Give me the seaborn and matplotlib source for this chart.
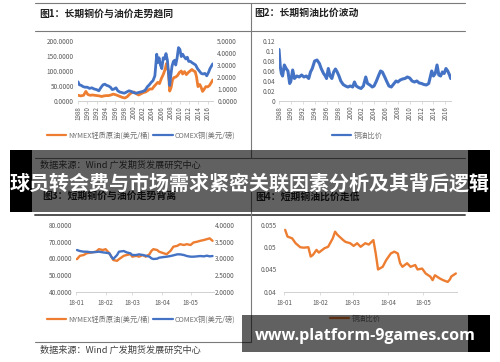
import matplotlib
matplotlib.use("Agg")
import matplotlib.pyplot as plt
import matplotlib.ticker as mticker
import matplotlib.dates as mdates
from matplotlib.lines import Line2D
from matplotlib.patches import Rectangle
import pandas as pd
import seaborn as sns

# ---- data ----
# fig 1: long-run oil ($/bbl, left axis) and copper ($/lb, right axis)
oil_years = [1988.0, 1988.6, 1989.2, 1989.7, 1990.1, 1990.6, 1991.1, 1991.6, 1992.1, 1992.6,
             1993.1, 1993.6, 1994.1, 1994.6, 1995.1, 1995.6, 1996.1, 1996.6, 1997.1, 1997.6,
             1998.1, 1998.6, 1999.1, 1999.6, 2000.1, 2000.6, 2001.1, 2001.6, 2002.1, 2002.6,
             2003.0, 2003.5, 2004.0, 2004.4, 2004.8, 2005.2, 2005.6, 2006.0, 2006.4, 2006.8,
             2007.1, 2007.5, 2007.8, 2008.1, 2008.4, 2008.7, 2009.1, 2009.5, 2009.9, 2010.3,
             2010.6, 2011.0, 2011.4, 2011.8, 2012.2, 2012.6, 2013.0, 2013.3, 2013.6, 2013.9,
             2014.3, 2014.6, 2014.9, 2015.2, 2015.6, 2016.0, 2016.4, 2016.8, 2017.1]
oil_long = [19, 17, 19, 32, 22, 19, 20, 19, 18, 17,
            15, 17, 18, 18, 20, 23, 21, 18, 15, 12,
            10, 14, 22, 28, 30, 24, 20, 24, 28, 30,
            34, 40, 40, 48, 55, 62, 58, 75, 88, 105,
            125, 100, 33, 45, 70, 78, 80, 85, 95, 100,
            90, 98, 88, 95, 100, 105, 100, 98, 80, 48,
            55, 45, 32, 38, 48, 47, 52, 62, 70]

cu_years = [1988.0, 1988.3, 1988.7, 1989.1, 1989.5, 1990.0, 1990.5, 1991.0, 1991.5, 1992.0,
            1992.5, 1993.0, 1993.4, 1993.8, 1994.2, 1994.6, 1995.0, 1995.4, 1995.8, 1996.2,
            1996.6, 1997.0, 1997.5, 1998.0, 1998.5, 1999.0, 1999.5, 2000.0, 2000.5, 2001.0,
            2001.5, 2002.0, 2002.5, 2003.0, 2003.4, 2003.8, 2004.2, 2004.6, 2005.0, 2005.2,
            2005.5, 2005.8, 2006.1, 2006.4, 2006.7, 2007.0, 2007.3, 2007.8, 2008.0, 2008.3,
            2008.6, 2008.9, 2009.1, 2009.4, 2009.7, 2010.0, 2010.3, 2010.6, 2010.9, 2011.3,
            2011.6, 2011.9, 2012.3, 2012.6, 2013.0, 2013.4, 2013.8, 2014.2, 2014.6, 2015.0,
            2015.4, 2015.8, 2016.2, 2016.5, 2016.8, 2017.1]
cu_long = [1.6, 1.35, 1.3, 1.2, 1.15, 1.15, 1.05, 1.1, 1.0, 0.95,
           0.85, 1.15, 1.35, 1.4, 1.3, 1.25, 1.15, 0.95, 1.0, 1.1,
           0.85, 0.75, 0.7, 0.65, 0.75, 0.85, 0.8, 0.7, 0.65, 0.7,
           0.75, 0.8, 0.9, 1.2, 1.35, 1.55, 1.7, 2.1, 3.9, 3.2,
           3.6, 3.0, 2.7, 3.6, 3.5, 3.95, 3.4, 1.3, 2.0, 2.9,
           3.3, 3.4, 3.0, 3.6, 4.45, 4.3, 3.7, 3.9, 3.7, 3.5,
           3.65, 3.3, 3.3, 3.2, 3.1, 3.0, 2.7, 2.5, 2.3, 2.25,
           2.3, 2.1, 2.4, 2.7, 2.9, 3.1]

# fig 2: long-run copper/oil ratio
ratio_years = [1988.0, 1988.2, 1988.4, 1988.6, 1988.9, 1989.2, 1989.5, 1989.8, 1990.0, 1990.3,
               1990.6, 1991.0, 1991.4, 1991.8, 1992.2, 1992.6, 1993.0, 1993.3, 1993.6, 1994.0,
               1994.4, 1994.8, 1995.1, 1995.5, 1995.8, 1996.0, 1996.3, 1996.6, 1996.9, 1997.2,
               1997.5, 1997.8, 1998.1, 1998.4, 1998.8, 1999.2, 1999.6, 2000.0, 2000.4, 2000.7,
               2001.0, 2001.4, 2001.8, 2002.2, 2002.6, 2002.9, 2003.3, 2003.7, 2004.0, 2004.4,
               2004.8, 2005.1, 2005.4, 2005.8, 2006.1, 2006.5, 2006.9, 2007.3, 2007.7, 2008.0,
               2008.4, 2008.8, 2009.2, 2009.6, 2010.0, 2010.4, 2010.8, 2011.2, 2011.6, 2012.0,
               2012.4, 2012.8, 2013.2, 2013.5, 2013.7, 2014.0, 2014.3, 2014.6, 2014.9, 2015.2,
               2015.5, 2015.8, 2016.1, 2016.4, 2016.7, 2016.9]
ratio_long = [0.103, 0.07, 0.055, 0.05, 0.072, 0.065, 0.06, 0.035, 0.04, 0.062,
              0.045, 0.05, 0.048, 0.052, 0.048, 0.05, 0.045, 0.058, 0.065, 0.08,
              0.082, 0.075, 0.065, 0.055, 0.05, 0.045, 0.065, 0.05, 0.045, 0.058,
              0.064, 0.058, 0.05, 0.04, 0.033, 0.03, 0.028, 0.03, 0.028, 0.038,
              0.03, 0.027, 0.025, 0.03, 0.048, 0.035, 0.032, 0.028, 0.03, 0.04,
              0.052, 0.06, 0.058, 0.048, 0.04, 0.03, 0.028, 0.034, 0.04, 0.038,
              0.042, 0.044, 0.045, 0.048, 0.046, 0.04, 0.038, 0.04, 0.036, 0.035,
              0.033, 0.032, 0.035, 0.05, 0.06, 0.05, 0.055, 0.072, 0.052, 0.05,
              0.058, 0.055, 0.065, 0.06, 0.052, 0.045]

# fig 3: 2018 oil and copper
short_dates = ["01-02", "01-05", "01-09", "01-12", "01-17", "01-22", "01-25", "01-29", "02-01", "02-05",
               "02-07", "02-09", "02-13", "02-15", "02-20", "02-23", "02-27", "03-01", "03-05", "03-08",
               "03-12", "03-15", "03-19", "03-21", "03-23", "03-27", "03-29", "04-03", "04-06", "04-10",
               "04-13", "04-17", "04-20", "04-24", "04-27", "05-01", "05-04", "05-08", "05-11", "05-15",
               "05-18", "05-21", "05-24"]
oil_short = [59.5, 61.5, 62, 63, 63.5, 64, 65.5, 65, 65.5, 63,
             61, 59, 58.5, 59.5, 61.5, 62, 62.5, 61, 61.5, 61,
             62, 61, 62.5, 64.5, 65.5, 65, 64, 63, 62.5, 64.5,
             67, 67.5, 68.5, 68, 68.5, 68, 69.5, 70, 70.5, 71,
             71.5, 72, 70.5]
cu_short = [3.25, 3.22, 3.2, 3.2, 3.18, 3.19, 3.2, 3.18, 3.17, 3.15,
            3.05, 2.98, 3.1, 3.2, 3.22, 3.18, 3.15, 3.1, 3.1, 3.12,
            3.1, 3.08, 3.05, 3.0, 2.98, 2.99, 3.02, 3.04, 3.05, 3.07,
            3.09, 3.12, 3.12, 3.1, 3.07, 3.05, 3.05, 3.06, 3.07, 3.06,
            3.08, 3.06, 3.07]

# fig 4: 2018 copper/oil ratio
ratio_dates = ["01-02", "01-04", "01-08", "01-11", "01-15", "01-18", "01-22", "01-24", "01-26", "01-29",
               "01-31", "02-05", "02-08", "02-12", "02-14", "02-16", "02-21", "02-23", "02-27", "03-02",
               "03-05", "03-08", "03-12", "03-15", "03-19", "03-21", "03-23", "03-27", "03-30", "04-03",
               "04-06", "04-09", "04-11", "04-13", "04-17", "04-20", "04-24", "04-26", "04-30", "05-03",
               "05-07", "05-09", "05-11", "05-15", "05-18", "05-22", "05-24", "05-25", "05-29"]
ratio_short = [0.0539, 0.0524, 0.0520, 0.0509, 0.0500, 0.0499, 0.0500, 0.0479, 0.0483, 0.0494,
               0.0488, 0.0498, 0.0501, 0.0520, 0.0535, 0.0528, 0.0516, 0.0512, 0.0509, 0.0503,
               0.0509, 0.0501, 0.0509, 0.0506, 0.0516, 0.0486, 0.0450, 0.0456, 0.0471, 0.0486,
               0.0490, 0.0486, 0.0464, 0.0456, 0.0464, 0.0456, 0.0460, 0.0450, 0.0452, 0.0441,
               0.0434, 0.0426, 0.0437, 0.0430, 0.0426, 0.0422, 0.0428, 0.0434, 0.0441]

long_ticks = list(range(1988, 2017, 2))
oil_label = "NYMEX轻质原油(美元/桶)"
cu_label = "COMEX铜(美元/磅)"
ratio_label = "铜油比价"
titles = ["图1：长期铜价与油价走势趋同", "图2：长期铜油比价波动",
          "图3：短期铜价与油价走势背离", "图4：短期铜油比价走低"]
source = "数据来源：Wind 广发期货发展研究中心"
banner = "球员转会费与市场需求紧密关联因素分析及其背后逻辑"
site = "www.platform-9games.com"

# ---- drawing ----
sns.set_theme(style="white")
plt.rcParams["font.family"] = ["Noto Sans CJK SC", "DejaVu Sans"]

W, H = 500, 362
ORANGE = "#ED7D31"
BLUE = "#4472C4"
TICK = "#595959"

fig = plt.figure(figsize=(5, 3.62), dpi=100)
fig.patch.set_facecolor("white")


def px_axes(x0, y0, x1, y1):
    return fig.add_axes([x0 / W, 1 - y1 / H, (x1 - x0) / W, (y1 - y0) / H])


def style(ax, ypad=2.2):
    for s in ["top", "right", "left"]:
        ax.spines[s].set_visible(False)
    ax.spines["bottom"].set_color("#d0d0d0")
    ax.spines["bottom"].set_linewidth(0.7)
    ax.tick_params(axis="x", colors=TICK, labelsize=4.5, length=2, width=0.5,
                   color="#d0d0d0", pad=1.5, bottom=True)
    ax.tick_params(axis="y", colors=TICK, labelsize=4.6, length=0, pad=ypad)
    ax.set_xlabel("")
    ax.set_ylabel("")
    ax.patch.set_alpha(0)


def twin_style(ax, ypad=2.2):
    for s in ["top", "right", "left", "bottom"]:
        ax.spines[s].set_visible(False)
    ax.tick_params(axis="y", colors=TICK, labelsize=4.6, length=0, pad=ypad)
    ax.set_ylabel("")


def add_legend(ax, handles, labels, cx, cy):
    ax.legend(handles, labels, loc="center", bbox_to_anchor=(cx / W, 1 - cy / H),
              bbox_transform=fig.transFigure, ncol=len(handles), frameon=False,
              fontsize=5.2, labelcolor="#707070", handlelength=2.7, handletextpad=0.3,
              columnspacing=0.4)


fmt4 = mticker.FormatStrFormatter("%.4f")
fmtg = mticker.FuncFormatter(lambda v, p: f"{v:g}")
oil_h = Line2D([], [], color=ORANGE, lw=1.6)
cu_h = Line2D([], [], color=BLUE, lw=1.6)

# fig 1
ax1 = px_axes(78, 41, 213, 101)
sns.lineplot(x=oil_years, y=oil_long, ax=ax1, color=ORANGE, lw=2.0)
ax1.set_xlim(1988, 2017.15)
ax1.set_ylim(0, 200)
ax1.set_yticks([0, 50, 100, 150, 200])
ax1.yaxis.set_major_formatter(fmt4)
ax1.set_xticks(long_ticks)
ax1.set_xticklabels([str(y) for y in long_ticks], rotation=90)
style(ax1, ypad=3)
ax1r = ax1.twinx()
sns.lineplot(x=cu_years, y=cu_long, ax=ax1r, color=BLUE, lw=2.0)
ax1r.set_ylim(0, 5)
ax1r.set_yticks([0, 1, 2, 3, 4, 5])
ax1r.yaxis.set_major_formatter(fmt4)
twin_style(ax1r, ypad=3)
add_legend(ax1, [oil_h, cu_h], [oil_label, cu_label], 141, 136)

# fig 2
ax2 = px_axes(279, 41, 451, 101)
sns.lineplot(x=ratio_years, y=ratio_long, ax=ax2, color=BLUE, lw=2.2)
ax2.set_xlim(1988, 2016.95)
ax2.set_ylim(0, 0.12)
ax2.set_yticks([0, 0.02, 0.04, 0.06, 0.08, 0.1, 0.12])
ax2.yaxis.set_major_formatter(fmtg)
ax2.set_xticks(long_ticks)
ax2.set_xticklabels([str(y) for y in long_ticks], rotation=90)
style(ax2, ypad=3)
add_legend(ax2, [cu_h], [ratio_label], 357, 136)

# fig 3
d3 = pd.to_datetime(["2018-" + d for d in short_dates])
ax3 = px_axes(76, 225, 213.5, 291.7)
sns.lineplot(x=d3, y=oil_short, ax=ax3, color=ORANGE, lw=1.7)
ax3.set_ylim(40, 80)
ax3.set_yticks([40, 50, 60, 70, 80])
ax3.yaxis.set_major_formatter(fmt4)
ax3.set_xlim(pd.Timestamp("2018-01-01"), pd.Timestamp("2018-05-25"))
ax3.xaxis.set_major_locator(mdates.MonthLocator())
ax3.xaxis.set_major_formatter(mdates.DateFormatter("%y-%m"))
style(ax3, ypad=2.5)
ax3.tick_params(axis="x", pad=3)
ax3r = ax3.twinx()
sns.lineplot(x=d3, y=cu_short, ax=ax3r, color=BLUE, lw=1.7)
ax3r.set_ylim(2, 4)
ax3r.set_yticks([2, 2.5, 3, 3.5, 4])
ax3r.yaxis.set_major_formatter(fmt4)
twin_style(ax3r, ypad=1.2)
add_legend(ax3, [oil_h, cu_h], [oil_label, cu_label], 141, 320)

# fig 4
d4 = pd.to_datetime(["2018-" + d for d in ratio_dates])
ax4 = px_axes(284, 225, 457, 291.7)
sns.lineplot(x=d4, y=ratio_short, ax=ax4, color=ORANGE, lw=1.7)
ax4.set_ylim(0.04, 0.055)
ax4.set_yticks([0.04, 0.045, 0.05, 0.055])
ax4.yaxis.set_major_formatter(fmtg)
ax4.set_xlim(pd.Timestamp("2018-01-01"), pd.Timestamp("2018-05-30"))
ax4.xaxis.set_major_locator(mdates.MonthLocator())
ax4.xaxis.set_major_formatter(mdates.DateFormatter("%y-%m"))
style(ax4, ypad=5.5)
ax4.tick_params(axis="x", pad=3)
add_legend(ax4, [oil_h], [ratio_label], 355, 319)

# page frame, titles, overlays (pixel coordinates)
ov = fig.add_axes([0, 0, 1, 1], zorder=10)
ov.set_xlim(0, W)
ov.set_ylim(H, 0)
ov.axis("off")
ov.patch.set_alpha(0)

rule = dict(color="#7a7a7a", lw=0.8, zorder=1)
ov.plot([35, 465], [3, 3], **rule)
ov.plot([35, 465], [31, 31], **rule)
ov.plot([251, 251], [3, 158], **rule)
ov.plot([35, 465], [158, 158], **rule)
ov.plot([35, 465], [215, 215], color="#505050", lw=1.4, zorder=1)
ov.plot([251, 251], [190, 342], **rule)
ov.plot([35, 251], [341.5, 341.5], **rule)

tkw = dict(fontsize=7.1, fontweight="bold", color="#222222", va="center", ha="left", zorder=2)
ov.text(39, 14, titles[0], **tkw)
ov.text(254, 13, titles[1], **tkw)
ov.text(42, 197, titles[2], **tkw)
ov.text(255, 197, titles[3], **tkw)
skw = dict(fontsize=6.6, color="#404040", va="center", ha="left", zorder=2)
ov.text(40, 165, source, **skw)
ov.text(40, 350, source, **skw)

# dark banners
ov.add_patch(Rectangle((32, 150), 436, 62, color="black", alpha=0.62, lw=0, zorder=5))
ov.add_patch(Rectangle((10, 150), 22, 62, color="black", lw=0, zorder=5))
ov.add_patch(Rectangle((468, 150), 22, 62, color="black", lw=0, zorder=5))
ov.add_patch(Rectangle((242, 315), 226, 37, color="black", alpha=0.62, lw=0, zorder=5))
ov.add_patch(Rectangle((468, 315), 22, 37, color="black", lw=0, zorder=5))

ov.text(250, 183, banner, fontsize=14.4, fontweight="bold", color="white",
        ha="center", va="center", zorder=7)
ov.text(365, 336, site, fontsize=11.5, fontweight="bold", color="white",
        ha="center", va="center", zorder=7, family=["Open Sans", "DejaVu Sans"])

fig.savefig("out.png", dpi=100, facecolor="white")
